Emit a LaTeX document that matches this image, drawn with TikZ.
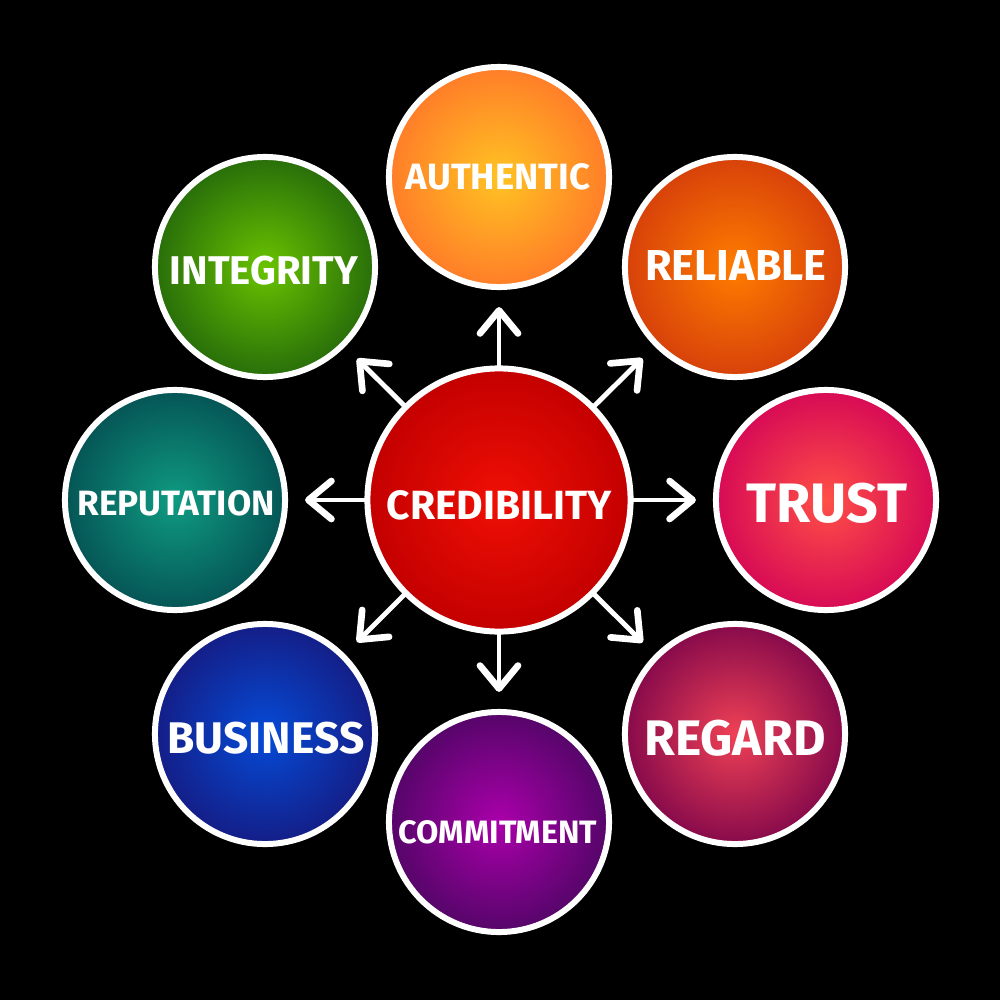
\documentclass[tikz,border=0pt]{standalone}
\usepackage{fontspec}
\setmainfont{Fira Sans}[BoldFont={Fira Sans Bold}]
\usetikzlibrary{arrows.meta}
\tikzset{
  x=0.01cm,y=-0.01cm,
  bubble/.style={circle,draw=white,line width=1.7pt,minimum size=2.2cm,inner sep=0pt,outer sep=0pt},
  hub/.style={bubble,minimum size=2.63cm},
  link/.style={draw=white,line width=1.4pt,line cap=round,-{Straight Barb[round,length=2.3mm,width=3.8mm,line width=1.9pt]},shorten >=0.2cm,shorten <=0pt},
  lab/.style={text=white,inner sep=0pt,font=\fontsize{#1}{#1}\selectfont\bfseries},
}
\begin{document}
\begin{tikzpicture}
\useasboundingbox (0,0) rectangle (1000,1000);
\fill[black] (0,0) rectangle (1000,1000);
\node[hub,inner color={rgb,255:red,240;green,15;blue,5},outer color={rgb,255:red,195;green,0;blue,0}] (c) at (499,500) {};
\node[bubble,inner color={rgb,255:red,255;green,195;blue,35},outer color={rgb,255:red,255;green,125;blue,40}] (a) at (499,177) {};
\node[bubble,inner color={rgb,255:red,255;green,125;blue,0},outer color={rgb,255:red,215;green,65;blue,10}] (b) at (735,267) {};
\node[bubble,inner color={rgb,255:red,255;green,80;blue,70},outer color={rgb,255:red,215;green,10;blue,85}] (d) at (826,500) {};
\node[bubble,inner color={rgb,255:red,240;green,65;blue,85},outer color={rgb,255:red,135;green,10;blue,75}] (e) at (735,734) {};
\node[bubble,inner color={rgb,255:red,170;green,0;blue,170},outer color={rgb,255:red,85;green,5;blue,105}] (f) at (499,822) {};
\node[bubble,inner color={rgb,255:red,5;green,75;blue,215},outer color={rgb,255:red,20;green,30;blue,135}] (g) at (265,734) {};
\node[bubble,inner color={rgb,255:red,15;green,155;blue,130},outer color={rgb,255:red,5;green,85;blue,85}] (h) at (175,500) {};
\node[bubble,inner color={rgb,255:red,105;green,195;blue,0},outer color={rgb,255:red,40;green,110;blue,10}] (i) at (265,267) {};
\node[lab=11.6] (tc) at (499,505) {CREDIBILITY};
\node[lab=10.4] (ta) at (498,177) {AUTHENTIC};
\node[lab=12.3] (tb) at (736,266) {RELIABLE};
\node[lab=15.8] (td) at (827,503) {TRUST};
\node[lab=14.2] (te) at (735,738) {REGARD};
\node[lab=9.2] (tf) at (498,832) {COMMITMENT};
\node[lab=12.6] (tg) at (266,738) {BUSINESS};
\node[lab=10] (th) at (176,503) {REPUTATION};
\node[lab=11.4] (ti) at (264,271) {INTEGRITY};
\foreach \t in {a,b,d,e,f,g,h,i}{\draw[link] (c) -- (\t);}
\end{tikzpicture}
\end{document}
